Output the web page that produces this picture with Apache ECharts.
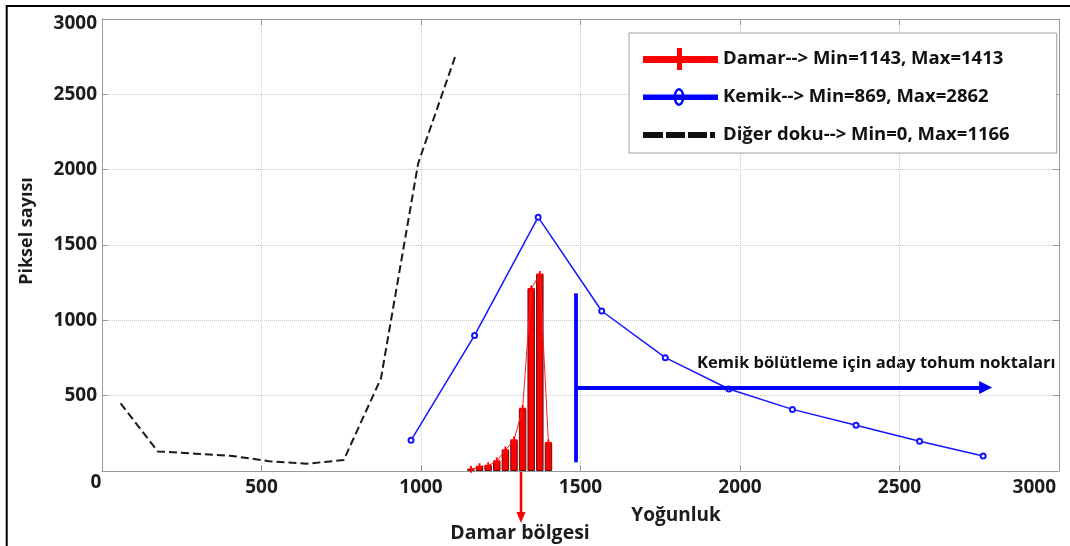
<!DOCTYPE html>
<html><head><meta charset="utf-8">
<script src="https://cdn.jsdelivr.net/npm/echarts@6/dist/echarts.min.js"></script>
<style>html,body{margin:0;padding:0;background:#fff}#c{width:1070px;height:546px}</style>
</head><body><div id="c"></div>
<script>
// ---- data ----
const damarX = [1156.5, 1183.5, 1210.5, 1237.5, 1264.5, 1291.5, 1318.5, 1345.5, 1372.5, 1399.5];
const damarY = [11, 28, 35, 66, 139, 205, 413, 1208, 1305, 186];
const kemikX = [968.7, 1167.9, 1367.2, 1566.5, 1765.8, 1965.1, 2164.4, 2363.7, 2563.0, 2762.3];
const kemikY = [204, 900, 1685, 1062, 752, 544, 409, 303, 197, 100];
const digerX = [58.3, 174.9, 291.5, 408.1, 524.7, 641.3, 757.9, 874.5, 991.1, 1107.7];
const digerY = [449, 130, 115, 100, 65, 48, 73, 615, 2042, 2754];
const xTicks = [0, 500, 1000, 1500, 2000, 2500, 3000];
const xTickLabels = ['', '500', '1000', '1500', '2000', '2500', '3000'];
const yTicks = [0, 500, 1000, 1500, 2000, 2500, 3000];
const yTickLabels = ['', '500', '1000', '1500', '2000', '2500', '3000'];
const legendNames = ['Damar--> Min=1143, Max=1413', 'Kemik--> Min=869, Max=2862', 'Diğer doku--> Min=0, Max=1166'];
const seedX = 1486;
const seedVertical = [58, 1179];
const seedArrowY = 555;
const seedArrowEnd = 2770;
const seedText = 'Kemik bölütleme için aday tohum noktaları';
const xTitle = 'Yoğunluk';
const yTitle = 'Piksel sayısı';
const damarText = 'Damar bölgesi';

const FONT = 'Open Sans';
const TXT = '#1c1c1c';
const dots = ' M0,0 L0.05,0 L0,0.05 Z M75,22 L74.95,22 L75,21.95 Z';
const icons = [
  'path://M0,8 L75,8 L75,15 L0,15 Z M34,0 L39,0 L39,22 L34,22 Z' + dots,
  'path://M0,8.5 L75,8.5 L75,14 L0,14 Z M36,2 A5.5,9 0 1,1 36,20 A5.5,9 0 1,1 36,2 Z M36,4.6 A3,6.4 0 1,0 36,17.4 A3,6.4 0 1,0 36,4.6 Z' + dots,
  'path://M0,8 L20,8 L20,14 L0,14 Z M23,8 L42,8 L42,14 L23,14 Z M45,8 L64,8 L64,14 L45,14 Z M67,8 L72,8 L72,14 L67,14 Z' + dots
];
const legendColors = ['#ff0000', '#0000ff', '#111111'];
const plusPath = 'path://M-1.3,-5 L1.3,-5 L1.3,-1.3 L5,-1.3 L5,1.3 L1.3,1.3 L1.3,5 L-1.3,5 L-1.3,1.3 L-5,1.3 L-5,-1.3 L-1.3,-1.3 Z';

const zip = (xs, ys) => xs.map((x, i) => [x, ys[i]]);
const axisGrey = '#9a9a9a';

const chart = echarts.init(document.getElementById('c'), null, {renderer: 'canvas'});
const labelStyle = {fontFamily: FONT, fontWeight: 'bold', fontSize: 19, color: TXT};
const richBase = {fontFamily: FONT, fontWeight: 'bold', fontSize: 19, color: TXT};

chart.setOption({
  animation: false,
  backgroundColor: '#fff',
  grid: {left: 102, right: 11, top: 19, bottom: 75},
  xAxis: [{
    type: 'value', min: 0, max: 3000, interval: 500, position: 'bottom',
    axisLine: {show: true, onZero: false, lineStyle: {color: axisGrey, width: 1}},
    axisTick: {show: true, inside: true, length: 6, lineStyle: {color: axisGrey}},
    axisLabel: Object.assign({margin: 7, alignMaxLabel: 'right',
      formatter: v => v === xTicks[xTicks.length - 1] ? '{last|' + xTickLabels[xTicks.indexOf(v)] + '}' : xTickLabels[xTicks.indexOf(v)],
      rich: {last: Object.assign({padding: [0, 3, 0, 0]}, richBase)}}, labelStyle),
    splitLine: {show: true, lineStyle: {color: '#c8c8c8', type: 'dotted', width: 1}}
  }, {
    type: 'value', min: 0, max: 3000, interval: 500, position: 'top',
    axisLine: {show: true, onZero: false, lineStyle: {color: axisGrey, width: 1}},
    axisTick: {show: true, inside: true, length: 6, lineStyle: {color: axisGrey}},
    axisLabel: {show: false}, splitLine: {show: false}
  }],
  yAxis: [{
    type: 'value', min: 0, max: 3000, interval: 500, position: 'left',
    axisLine: {show: true, onZero: false, lineStyle: {color: axisGrey, width: 1}},
    axisTick: {show: true, inside: true, length: 6, lineStyle: {color: axisGrey}},
    axisLabel: Object.assign({margin: 5,
      formatter: v => v === yTicks[yTicks.length - 1] ? '{top|' + yTickLabels[yTicks.indexOf(v)] + '}' : yTickLabels[yTicks.indexOf(v)],
      rich: {top: Object.assign({padding: [9, 0, 0, 0]}, richBase)}}, labelStyle),
    splitLine: {show: true, lineStyle: {color: '#c8c8c8', type: 'dotted', width: 1}}
  }, {
    type: 'value', min: 0, max: 3000, interval: 500, position: 'right',
    axisLine: {show: true, onZero: false, lineStyle: {color: axisGrey, width: 1}},
    axisTick: {show: true, inside: true, length: 6, lineStyle: {color: axisGrey}},
    axisLabel: {show: false}, splitLine: {show: false}
  }],
  legend: {
    data: legendNames.map((n, i) => ({name: n, icon: icons[i], itemStyle: {color: legendColors[i], borderWidth: 0}})),
    orient: 'vertical', left: 629, top: 33,
    itemWidth: 75, itemHeight: 22, itemGap: 16,
    padding: [15, 47, 7, 14],
    borderColor: '#a0a0a0', borderWidth: 1, backgroundColor: '#fff',
    selectedMode: false,
    textStyle: {fontFamily: FONT, fontWeight: 'bold', fontSize: 18.5, color: '#111'}
  },
  series: [{
    type: 'bar', name: 'damarBars', data: zip(damarX, damarY), barWidth: 7.5,
    itemStyle: {color: '#ff0000', borderColor: '#5a1010', borderWidth: 1}, z: 2, silent: true
  }, {
    type: 'line', name: legendNames[0], data: zip(damarX, damarY),
    symbol: plusPath, symbolSize: 7, itemStyle: {color: '#ff0000'},
    lineStyle: {color: '#ff2020', width: 1}, z: 3
  }, {
    type: 'line', name: legendNames[1], data: zip(kemikX, kemikY),
    symbol: 'emptyCircle', symbolSize: 5, itemStyle: {color: '#1515ff', borderWidth: 1.5},
    lineStyle: {color: '#1515ff', width: 1.5}, z: 3,
    markLine: {
      silent: true, animation: false, label: {show: false}, emphasis: {disabled: true},
      symbol: ['none', 'none'],
      lineStyle: {color: '#0000ff', width: 3.8, type: 'solid'},
      data: [
        [{coord: [seedX, seedVertical[0]], symbol: 'none'}, {coord: [seedX, seedVertical[1]], symbol: 'none'}],
        [{coord: [seedX, seedArrowY], symbol: 'none'}, {coord: [seedArrowEnd, seedArrowY], symbol: 'triangle', symbolSize: [13, 13]}]
      ]
    }
  }, {
    type: 'line', name: legendNames[2], data: zip(digerX, digerY),
    symbol: 'none', lineStyle: {color: '#1a1a1a', width: 2, type: [8, 4]}, itemStyle: {color: '#111'}, z: 3
  }],
  graphic: [
    {type: 'polyline', shape: {points: [[6.7, 546], [6.7, 6], [1070, 6]]}, style: {stroke: '#000', lineWidth: 2, fill: null}, silent: true},
    {type: 'text', x: 96, y: 483, style: {text: '0', fontFamily: FONT, fontWeight: 'bold', fontSize: 19, fill: TXT, align: 'center', verticalAlign: 'middle'}},
    {type: 'text', x: 27, y: 231, rotation: Math.PI / 2, style: {text: yTitle, fontFamily: FONT, fontWeight: 'bold', fontSize: 18, fill: TXT, align: 'center', verticalAlign: 'middle'}},
    {type: 'text', x: 676, y: 516, style: {text: xTitle, fontFamily: FONT, fontWeight: 'bold', fontSize: 19, fill: TXT, align: 'center', verticalAlign: 'middle'}},
    {type: 'text', x: 697, y: 363, style: {text: seedText, fontFamily: FONT, fontWeight: 'bold', fontSize: 16.5, fill: '#111', align: 'left', verticalAlign: 'middle'}},
    {type: 'line', shape: {x1: 521, y1: 472, x2: 521, y2: 514}, style: {stroke: '#ff0000', lineWidth: 2.5}},
    {type: 'polygon', shape: {points: [[516.5, 512], [525.5, 512], [521, 523]]}, style: {fill: '#ff0000'}},
    {type: 'text', x: 520, y: 533, style: {text: damarText, fontFamily: FONT, fontWeight: 'bold', fontSize: 19.5, fill: TXT, align: 'center', verticalAlign: 'middle'}}
  ]
});
</script>
</body></html>
